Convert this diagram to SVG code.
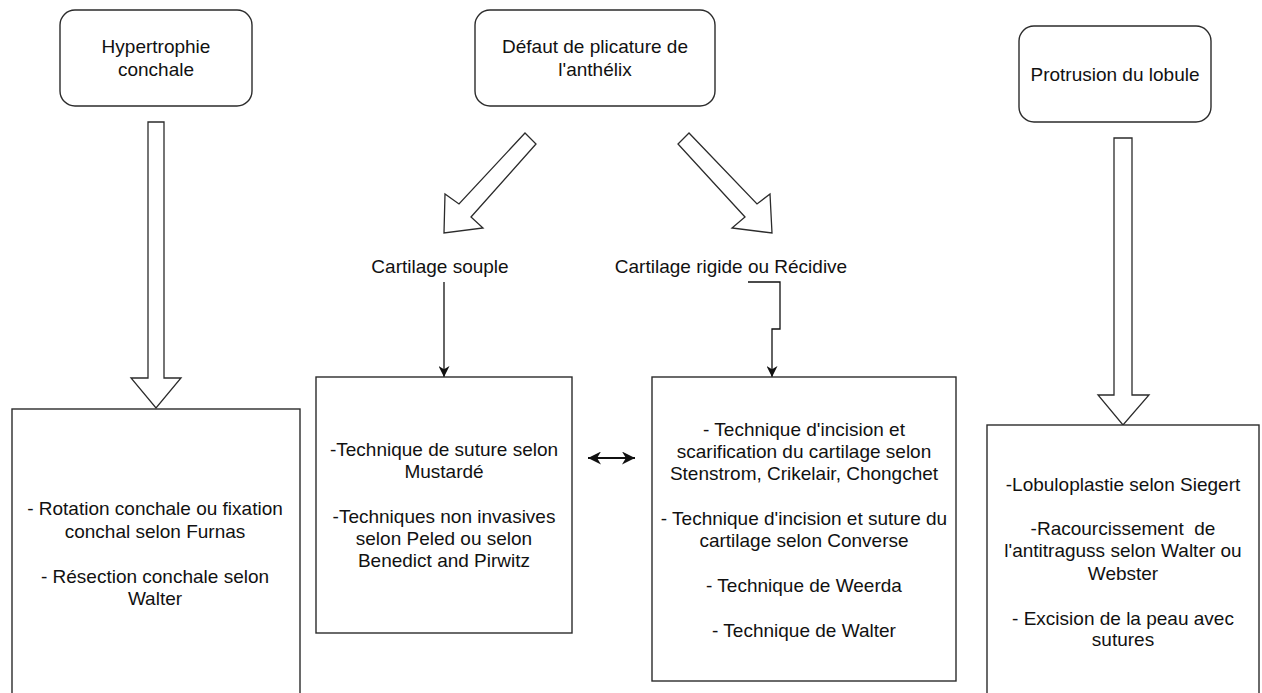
<svg xmlns="http://www.w3.org/2000/svg" width="1262" height="693" viewBox="0 0 1262 693">
  <style>
    .box { fill: #ffffff; stroke: #2b2b2b; stroke-width: 1.4; }
    .blk { fill: #ffffff; stroke: #2b2b2b; stroke-width: 1.3; stroke-linejoin: miter; }
    .ln { fill: none; stroke: #111111; stroke-width: 1.3; }
    .bold { fill: none; stroke: #111111; stroke-width: 2; }
    text { font-family: "Liberation Sans", Arial, sans-serif; font-size: 19px; fill: #111111; text-anchor: middle; }
  </style>
  <defs>
    <marker id="arr" viewBox="0 0 10 10" refX="10" refY="5" markerWidth="11" markerHeight="11" markerUnits="userSpaceOnUse" orient="auto-start-reverse">
      <path d="M0,0 L10,5 L0,10 L3,5 z" fill="#111111"/>
    </marker>
    <marker id="arrB" viewBox="0 0 10 10" refX="10" refY="5" markerWidth="13" markerHeight="13" markerUnits="userSpaceOnUse" orient="auto-start-reverse">
      <path d="M0,0 L10,5 L0,10 L3,5 z" fill="#111111"/>
    </marker>
  </defs>
  <rect width="1262" height="693" fill="#ffffff"/>

  <g id="connectors">
    <polygon class="blk" points="148,122 164,122 164,378 181,378 156,408 131,378 148,378"/>
    <polygon class="blk" points="1114,138 1132,138 1132,395 1149,395 1123,425 1098,395 1114,395"/>
    <polygon class="blk" points="525,133 536,144 471,217 483,228 444,233 445,194 459,204"/>
    <polygon class="blk" points="689,133 678,144 745,217 732,228 772,233 770,194 757,204"/>
    <line class="ln" x1="444" y1="282" x2="444" y2="377" marker-end="url(#arr)"/>
    <polyline class="ln" points="748,282 780,282 780,329 772,329 772,377" marker-end="url(#arr)"/>
    <line class="bold" x1="588" y1="458" x2="635" y2="458" marker-start="url(#arrB)" marker-end="url(#arrB)"/>
  </g>

  <g id="hypertrophie">
    <rect class="box" x="60" y="10" width="192" height="96" rx="15"/>
    <text x="156" y="53">Hypertrophie</text>
    <text x="156" y="76">conchale</text>
  </g>

  <g id="defaut">
    <rect class="box" x="475" y="10" width="240" height="96" rx="15"/>
    <text x="595" y="53">Défaut de plicature de</text>
    <text x="595" y="76">l'anthélix</text>
  </g>

  <g id="protrusion">
    <rect class="box" x="1019" y="26" width="192" height="96" rx="15"/>
    <text x="1115" y="81">Protrusion du lobule</text>
  </g>

  <g id="souple-label">
    <text x="440" y="273">Cartilage souple</text>
  </g>

  <g id="rigide-label">
    <text x="731" y="273">Cartilage rigide ou Récidive</text>
  </g>

  <g id="conchale-box">
    <rect class="box" x="12" y="409" width="288" height="300"/>
    <text x="155" y="515">- Rotation conchale ou fixation</text>
    <text x="155" y="538">conchal selon Furnas</text>
    <text x="155" y="583">- Résection conchale selon</text>
    <text x="155" y="605">Walter</text>
  </g>

  <g id="souple-box">
    <rect class="box" x="316" y="377" width="256" height="256"/>
    <text x="444" y="456">-Technique de suture selon</text>
    <text x="444" y="478">Mustardé</text>
    <text x="444" y="523">-Techniques non invasives</text>
    <text x="444" y="545">selon Peled ou selon</text>
    <text x="444" y="567">Benedict and Pirwitz</text>
  </g>

  <g id="rigide-box">
    <rect class="box" x="652" y="377" width="304" height="304"/>
    <text x="804" y="436">- Technique d'incision et</text>
    <text x="804" y="458">scarification du cartilage selon</text>
    <text x="804" y="480">Stenstrom, Crikelair, Chongchet</text>
    <text x="804" y="525">- Technique d'incision et suture du</text>
    <text x="804" y="547">cartilage selon Converse</text>
    <text x="804" y="592">- Technique de Weerda</text>
    <text x="804" y="637">- Technique de Walter</text>
  </g>

  <g id="lobule-box">
    <rect class="box" x="987" y="425" width="272" height="290"/>
    <text x="1123" y="491">-Lobuloplastie selon Siegert</text>
    <text x="1123" y="535" xml:space="preserve">-Racourcissement  de</text>
    <text x="1123" y="557">l'antitraguss selon Walter ou</text>
    <text x="1123" y="580">Webster</text>
    <text x="1123" y="625">- Excision de la peau avec</text>
    <text x="1123" y="646">sutures</text>
  </g>
</svg>
